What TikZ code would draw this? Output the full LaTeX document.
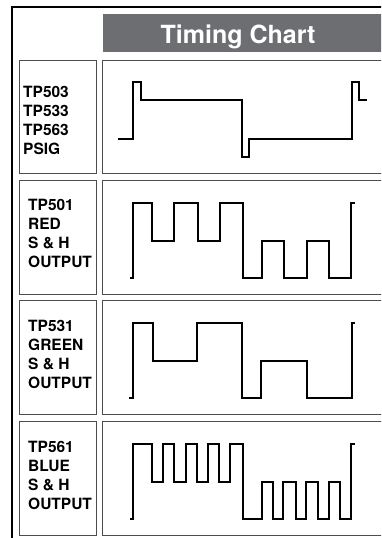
\documentclass[tikz,border=0pt]{standalone}
\usepackage{fontspec}
\setmainfont{TeX Gyre Heros}
\definecolor{bargray}{RGB}{109,110,113}
\tikzset{
  frame/.style={line width=2.2pt},
  cell/.style={draw=black!70, line width=0.9pt, inner sep=0pt, anchor=north west},
  wave/.style={line width=1.8pt, line join=miter},
  lbl/.style={font=\fontsize{15.5}{19}\selectfont\bfseries, anchor=base west, inner sep=0pt},
}
\begin{document}
\begin{tikzpicture}[x=1pt,y=-1pt]
\useasboundingbox (0,0) rectangle (381,538);
\clip (0,0) rectangle (381,538);

% outer frame
\draw[frame] (12,560) -- (12,7) -- (400,7);

% title bar
\node[fill=bargray, anchor=north west, minimum width=300pt, minimum height=38pt, inner sep=0pt] (bar) at (103,14) {};
\node[font=\fontsize{25}{30}\selectfont\bfseries, text=white, anchor=base, inner sep=0pt] (ttl) at (238,43) {Timing Chart};

% cells
\node[cell, minimum width=77pt, minimum height=113pt] (lb1) at (19,60) {};
\node[cell, minimum width=300pt, minimum height=113pt] (cb1) at (102,60) {};
\node[cell, minimum width=77pt, minimum height=114pt] (lb2) at (19,180) {};
\node[cell, minimum width=300pt, minimum height=114pt] (cb2) at (102,180) {};
\node[cell, minimum width=77pt, minimum height=114pt] (lb3) at (19,300) {};
\node[cell, minimum width=300pt, minimum height=114pt] (cb3) at (102,300) {};
\node[cell, minimum width=77pt, minimum height=114pt] (lb4) at (19,421) {};
\node[cell, minimum width=300pt, minimum height=114pt] (cb4) at (102,421) {};

% labels
\foreach \t [count=\i from 0] in {TP503,TP533,TP563,PSIG}
  \node[lbl] (pa\i) at (23,{97+19*\i}) {\t};
\foreach \t [count=\i from 0] in {TP501,RED,S \& H,OUTPUT}
  \node[lbl] (pb\i) at (28,{210+19*\i}) {\t};
\foreach \t [count=\i from 0] in {TP531,GREEN,S \& H,OUTPUT}
  \node[lbl] (pc\i) at (28,{331+19*\i}) {\t};
\foreach \t [count=\i from 0] in {TP561,BLUE,S \& H,OUTPUT}
  \node[lbl] (pd\i) at (28,{452+19*\i}) {\t};

% waveforms
\draw[wave] (118,139) -| (133,82) -| (141,100) -| (242,157) -| (249,139)
  -| (352,82) -| (359,100) -- (367,100);
\draw[wave] (130,278) -| (133,203) -| (152,241) -| (174,203) -| (198,241)
  -| (220,203) -| (243,278) -| (262,241) -| (284,278) -| (307,241)
  -| (329,278) -| (351,203) -- (355,203);
\draw[wave] (129,398) -| (133,323) -| (153,361) -| (197,323) -| (242,398)
  -| (261,361) -| (307,398) -| (352,323) -- (355,323);
\draw[wave] (130,519) -| (133,444) -| (152,482) -| (163,444) -| (174,482)
  -| (186,444) -| (197,482) -| (208,444) -| (219,482) -| (230,444)
  -| (243,519) -| (262,482) -| (273,519) -| (283,482) -| (296,519)
  -| (306,482) -| (318,519) -| (329,482) -| (340,519) -| (351,444) -- (355,444);
\end{tikzpicture}
\end{document}
